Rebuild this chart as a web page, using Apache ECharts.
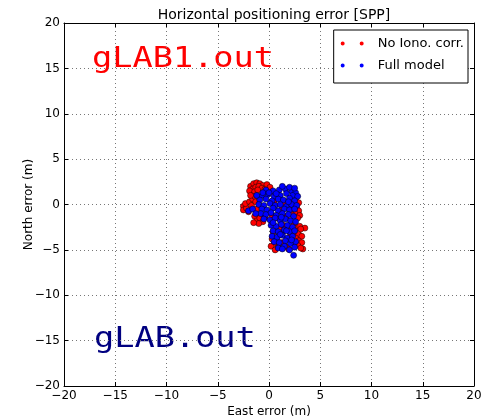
<!DOCTYPE html>
<html>
<head>
<meta charset="utf-8">
<script src="https://cdn.jsdelivr.net/npm/echarts@6/dist/echarts.min.js"></script>
<style>
  html, body { margin: 0; padding: 0; background: #fff; }
  #chart { width: 486px; height: 418px; }
</style>
</head>
<body>
<div id="chart"></div>
<script>
// east / north errors in metres
const noIonoCorr = [
  [-1.8, 2.0], [-1.5, 2.3], [-1.2, 2.4], [-0.9, 2.3], [-0.6, 2.1], [-1.6, 1.7], [-1.3, 1.9],
  [-1.0, 2.0], [-0.7, 1.8], [-0.4, 1.7], [-1.9, 1.5], [-1.4, 1.4], [-0.2, 2.2], [-1.1, 1.6],
  [0.1, 1.9], [-2.5, -0.2], [-2.5, -0.6], [-2.2, -0.4], [-2.3, 0.1], [-1.9, 0.3], [-1.7, -0.1],
  [-2.0, -0.8], [-1.6, 0.6], [-1.4, 0.9], [-1.8, 1.0], [-1.3, 0.3], [-1.2, -0.5], [-1.4, -1.3],
  [-1.2, -1.8], [-0.9, -1.5], [-0.6, -1.9], [-1.0, -2.1], [-0.4, -1.4], [-1.5, -2.0],
  [2.1, -0.2], [2.4, 0.1], [2.7, -0.3], [2.9, -0.7], [2.5, -0.9], [2.2, -1.1], [3.0, -1.2],
  [2.8, -1.5], [2.3, -0.5], [2.0, 0.4], [2.6, 0.6], [2.9, 0.2], [0.5, 0.3], [1.2, -0.6],
  [0.9, 1.0], [1.5, 0.2], [1.7, -1.3], [0.3, -1.2], [0.8, -1.5], [1.4, -2.3], [2.4, -2.2],
  [2.7, -2.6], [3.0, -2.4], [3.5, -2.6], [2.5, -3.1], [2.9, -3.3], [3.2, -3.5], [2.6, -3.7],
  [2.9, -4.0], [3.2, -4.2], [2.8, -4.5], [3.3, -4.9], [2.4, -4.2], [2.1, -3.4], [1.9, -2.7],
  [0.3, -3.8], [0.5, -4.3], [0.2, -4.6], [0.6, -5.0], [0.9, -4.7], [1.2, -4.2], [0.8, -3.6],
  [1.3, -3.2], [0.4, -3.0], [1.0, -2.7], [1.6, -4.6], [1.9, -4.9], [3.1, -4.8], [3.1, -2.7]
];
const fullModel = [
  [-0.3, 1.6], [0.4, 1.5], [1.0, 1.6], [1.6, 1.7], [2.2, 1.5], [2.6, 1.3], [1.3, 2.0],
  [2.0, 1.9], [2.5, 1.8], [-0.7, 1.0], [-0.1, 1.1], [0.5, 0.9], [1.1, 1.0], [1.7, 1.2],
  [2.3, 1.0], [2.8, 0.9], [-0.9, 0.5], [-0.3, 0.6], [0.3, 0.4], [0.9, 0.6], [1.4, 0.5],
  [2.0, 0.7], [2.5, 0.4], [-1.0, 0.0], [-0.5, -0.1], [0.1, 0.1], [0.6, -0.1], [1.1, 0.0],
  [1.7, -0.2], [2.2, 0.0], [2.7, -0.1], [-0.7, -0.5], [-0.2, -0.6], [0.4, -0.4], [0.9, -0.7],
  [1.5, -0.5], [2.0, -0.6], [2.5, -0.5], [-0.8, -1.0], [-0.3, -1.1], [0.2, -0.9], [0.7, -1.2],
  [1.3, -1.0], [1.9, -1.1], [2.4, -1.3], [-0.5, -1.6], [0.1, -1.7], [0.6, -1.5], [1.1, -1.8],
  [1.6, -1.6], [2.1, -1.8], [2.6, -1.9], [0.2, -2.3], [0.7, -2.4], [1.2, -2.2], [1.8, -2.3],
  [2.3, -2.5], [0.4, -2.9], [0.9, -3.0], [1.5, -2.8], [2.0, -3.0], [2.5, -2.9], [0.3, -3.5],
  [0.8, -3.6], [1.3, -3.4], [1.8, -3.7], [2.3, -3.5], [0.5, -4.1], [1.0, -4.2], [1.6, -4.0],
  [2.1, -4.3], [2.6, -4.1], [0.9, -4.8], [1.5, -4.6], [2.0, -5.0], [2.5, -4.7], [2.4, -5.6],
  [-2.0, -0.7], [-1.6, -0.5], [-1.3, -1.0], [-1.2, 1.0], [-0.6, 1.3], [0.0, 1.3], [0.7, 1.2],
  [1.9, 0.3], [1.2, -1.4], [0.4, -2.0], [1.7, -2.9], [1.1, -3.3], [2.2, -3.9], [1.3, -4.9]
];
const axisMin = -20;
const axisMax = 20;
const tickStep = 5;
const seriesNames = ['No Iono. corr.', 'Full model'];
const seriesColors = ['#ff0000', '#0000ff'];

const chart = echarts.init(document.getElementById('chart'));
const font = 'DejaVu Sans';
const minus = v => String(v).replace('-', '\u2212');
const twoDots = 'path://M0,2a2,2 0 1,0 4,0a2,2 0 1,0 -4,0M19,2a2,2 0 1,0 4,0a2,2 0 1,0 -4,0';

function axis(pos, shown) {
  return {
    type: 'value',
    position: pos,
    min: axisMin,
    max: axisMax,
    interval: tickStep,
    axisLine: { show: true, onZero: false, lineStyle: { color: '#000', width: 1 } },
    axisTick: { show: true, inside: true, length: 4, lineStyle: { color: '#000' } },
    axisLabel: {
      show: shown,
      color: '#000',
      fontFamily: font,
      fontSize: 12,
      margin: 4,
      formatter: minus
    },
    splitLine: shown
      ? { show: true, lineStyle: { color: '#777', type: [1, 3], width: 1 } }
      : { show: false }
  };
}

const xMain = axis('bottom', true);
xMain.name = 'East error (m)';
xMain.nameLocation = 'middle';
xMain.nameGap = 20;
xMain.nameMoveOverlap = false;
xMain.nameTextStyle = { color: '#000', fontFamily: font, fontSize: 12 };
const yMain = axis('left', true);
yMain.name = 'North error (m)';
yMain.nameLocation = 'middle';
yMain.nameGap = 29;
yMain.nameMoveOverlap = false;
yMain.nameTextStyle = { color: '#000', fontFamily: font, fontSize: 12 };

chart.setOption({
  animation: false,
  backgroundColor: '#fff',
  title: {
    text: 'Horizontal positioning error [SPP]',
    left: 269,
    textAlign: 'center',
    top: 3,
    textStyle: { color: '#000', fontFamily: font, fontSize: 14, fontWeight: 'normal' }
  },
  grid: { left: 64, right: 12, top: 23, bottom: 32, outerBoundsMode: 'none' },
  xAxis: [xMain, axis('top', false)],
  yAxis: [yMain, axis('right', false)],
  legend: {
    right: 18,
    top: 30,
    orient: 'vertical',
    icon: twoDots,
    itemWidth: 23,
    itemHeight: 4,
    itemGap: 7,
    padding: [6, 4, 10, 7],
    borderColor: '#000',
    borderWidth: 1,
    backgroundColor: '#fff',
    itemStyle: { borderWidth: 0 },
    textStyle: { color: '#000', fontFamily: font, fontSize: 13, lineHeight: 15, padding: [0, 0, 0, 9] },
    data: seriesNames
  },
  graphic: [
    {
      type: 'text',
      left: 92,
      top: 46,
      scaleX: 1.2,
      style: { text: 'gLAB1.out', fill: '#ff0000', font: '28px "DejaVu Sans Mono"' }
    },
    {
      type: 'text',
      left: 94,
      top: 326,
      scaleX: 1.2,
      style: { text: 'gLAB.out', fill: '#000080', font: '28px "DejaVu Sans Mono"' }
    }
  ],
  series: [noIonoCorr, fullModel].map((pts, i) => ({
    name: seriesNames[i],
    type: 'scatter',
    symbolSize: 6,
    itemStyle: { color: seriesColors[i], borderColor: '#000', borderWidth: 0.5, opacity: 1 },
    data: pts
  }))
});
</script>
</body>
</html>
